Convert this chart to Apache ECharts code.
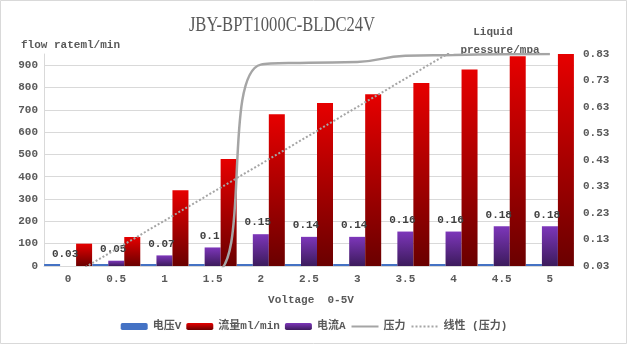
<!DOCTYPE html>
<html>
<head>
<meta charset="utf-8">
<script src="https://cdn.jsdelivr.net/npm/echarts@6/dist/echarts.min.js"></script>
<style>
html,body{margin:0;padding:0;background:#fff;}
#chart{width:628px;height:345px;}
</style>
</head>
<body>
<div id="chart"></div>
<script>
// ---- data ----
const categories = ['0', '0.5', '1', '1.5', '2', '2.5', '3', '3.5', '4', '4.5', '5'];
const voltage = [0, 0.5, 1, 1.5, 2, 2.5, 3, 3.5, 4, 4.5, 5];            // 电压V
const flow = [100, 130, 340, 480, 680, 730, 770, 820, 880, 940, 950];    // 流量ml/min
const current = [0.03, 0.05, 0.07, 0.1, 0.15, 0.14, 0.14, 0.16, 0.16, 0.18, 0.18]; // 电流A
const pressure = [0, 0, 0, 0, 0.79, 0.797, 0.80, 0.823, 0.826, 0.829, 0.83];     // 压力
const pressureTrend = [-0.013, 0.094, 0.201, 0.308, 0.415, 0.522, 0.630, 0.737, 0.844, 0.951, 1.058]; // 线性 (压力)
const leftTicks = { min: 0, max: 950, interval: 100 };
const rightTicks = { min: 0.03, max: 0.83, interval: 0.1 };

const titleText = 'JBY-BPT1000C-BLDC24V';
const leftAxisName = 'flow rateml/min';
const rightAxisName1 = 'Liquid';
const rightAxisName2 = 'pressure/mpa';
const xAxisName = 'Voltage  0-5V';
const names = ['电压V', '流量ml/min', '电流A', '压力', '线性 (压力)'];

const MONO = '"Liberation Mono", "Noto Sans CJK SC", monospace';
const TXT = '#595959';

const chart = echarts.init(document.getElementById('chart'), null, { renderer: 'canvas' });

const gridColors = [];
for (let i = 0; i < 10; i++) gridColors.push('#d9d9d9');
gridColors.push('rgba(0,0,0,0)');

const option = {
  animation: false,
  backgroundColor: '#fff',
  graphic: [
    { type: 'rect', shape: { x: 0.5, y: 0.5, width: 626, height: 343 },
      style: { fill: 'none', stroke: '#d9d9d9', lineWidth: 1 }, silent: true, z: -1 },
    { type: 'text', x: 282, y: 25, scaleX: 0.79,
      style: { text: titleText, font: '21px "Liberation Serif"', fill: TXT,
               textAlign: 'center', textVerticalAlign: 'middle' } },
    { type: 'text', x: 21, y: 45,
      style: { text: leftAxisName, font: 'bold 11px ' + MONO, fill: TXT,
               textAlign: 'left', textVerticalAlign: 'middle' } },
    { type: 'text', x: 493, y: 32,
      style: { text: rightAxisName1, font: 'bold 11px ' + MONO, fill: TXT,
               textAlign: 'center', textVerticalAlign: 'middle' } },
    { type: 'text', x: 500, y: 50,
      style: { text: rightAxisName2, font: 'bold 11px ' + MONO, fill: TXT,
               textAlign: 'center', textVerticalAlign: 'middle' } },
    { type: 'text', x: 311, y: 300,
      style: { text: xAxisName, font: 'bold 11px ' + MONO, fill: TXT,
               textAlign: 'center', textVerticalAlign: 'middle' } }
  ],
  legend: {
    data: [
      names[0], names[1], names[2],
      { name: names[3], itemStyle: { opacity: 0 } },
      { name: names[4], itemStyle: { opacity: 0 } }
    ],
    left: 'center',
    top: 316,
    itemWidth: 27,
    itemHeight: 7,
    itemGap: 5,
    textStyle: { fontFamily: MONO, fontSize: 11, fontWeight: 'bold', color: TXT }
  },
  grid: { left: 44, right: 54, top: 54, bottom: 79, containLabel: false },
  xAxis: {
    type: 'category',
    data: categories,
    axisLine: { show: true, lineStyle: { color: '#d9d9d9', width: 1 } },
    axisTick: { show: false },
    axisLabel: { margin: 8, fontFamily: MONO, fontSize: 11, fontWeight: 'bold', color: TXT }
  },
  yAxis: [
    {
      type: 'value',
      min: leftTicks.min, max: leftTicks.max, interval: leftTicks.interval,
      axisLine: { show: true, lineStyle: { color: '#d9d9d9' } },
      axisTick: { show: false },
      splitLine: { show: true, lineStyle: { color: gridColors, width: 1 } },
      axisLabel: { margin: 6, showMaxLabel: false, fontFamily: MONO, fontSize: 11, fontWeight: 'bold', color: TXT }
    },
    {
      type: 'value',
      position: 'right',
      min: rightTicks.min, max: rightTicks.max, interval: rightTicks.interval,
      axisLine: { show: false },
      axisTick: { show: false },
      splitLine: { show: false },
      axisLabel: { margin: 9, fontFamily: MONO, fontSize: 11, fontWeight: 'bold', color: TXT,
                   formatter: v => v.toFixed(2) }
    }
  ],
  series: [
    {
      name: names[0], type: 'bar', yAxisIndex: 0, data: voltage,
      barWidth: 16, barGap: '0%', barMinHeight: 2,
      itemStyle: { color: '#4472c4' }
    },
    {
      name: names[2], type: 'bar', yAxisIndex: 1, data: current,
      barWidth: 16, barGap: '0%',
      itemStyle: { color: new echarts.graphic.LinearGradient(0, 0, 0, 1, [
        { offset: 0, color: '#7d36ba' }, { offset: 1, color: '#3c1b5c' }]) },
      label: { show: true, position: 'top', distance: 6, offset: [-3, 0],
               fontFamily: MONO, fontSize: 11, fontWeight: 'bold', color: '#404040',
               formatter: p => String(p.value) }
    },
    {
      name: names[1], type: 'bar', yAxisIndex: 0, data: flow,
      barWidth: 16, barGap: '0%',
      itemStyle: { color: new echarts.graphic.LinearGradient(0, 0, 0, 1, [
        { offset: 0, color: '#e60000' }, { offset: 1, color: '#6a0000' }]) }
    },
    {
      name: names[3], type: 'line', yAxisIndex: 1, data: pressure,
      smooth: 0.5, symbol: 'none', clip: true,
      lineStyle: { color: '#a5a5a5', width: 2.5 },
      itemStyle: { color: '#a5a5a5' }
    },
    {
      name: names[4], type: 'line', yAxisIndex: 1, data: pressureTrend,
      symbol: 'none', clip: true,
      lineStyle: { color: '#a5a5a5', width: 2, type: [2, 2] },
      itemStyle: { color: '#a5a5a5' }
    }
  ]
};
chart.setOption(option);
</script>
</body>
</html>
